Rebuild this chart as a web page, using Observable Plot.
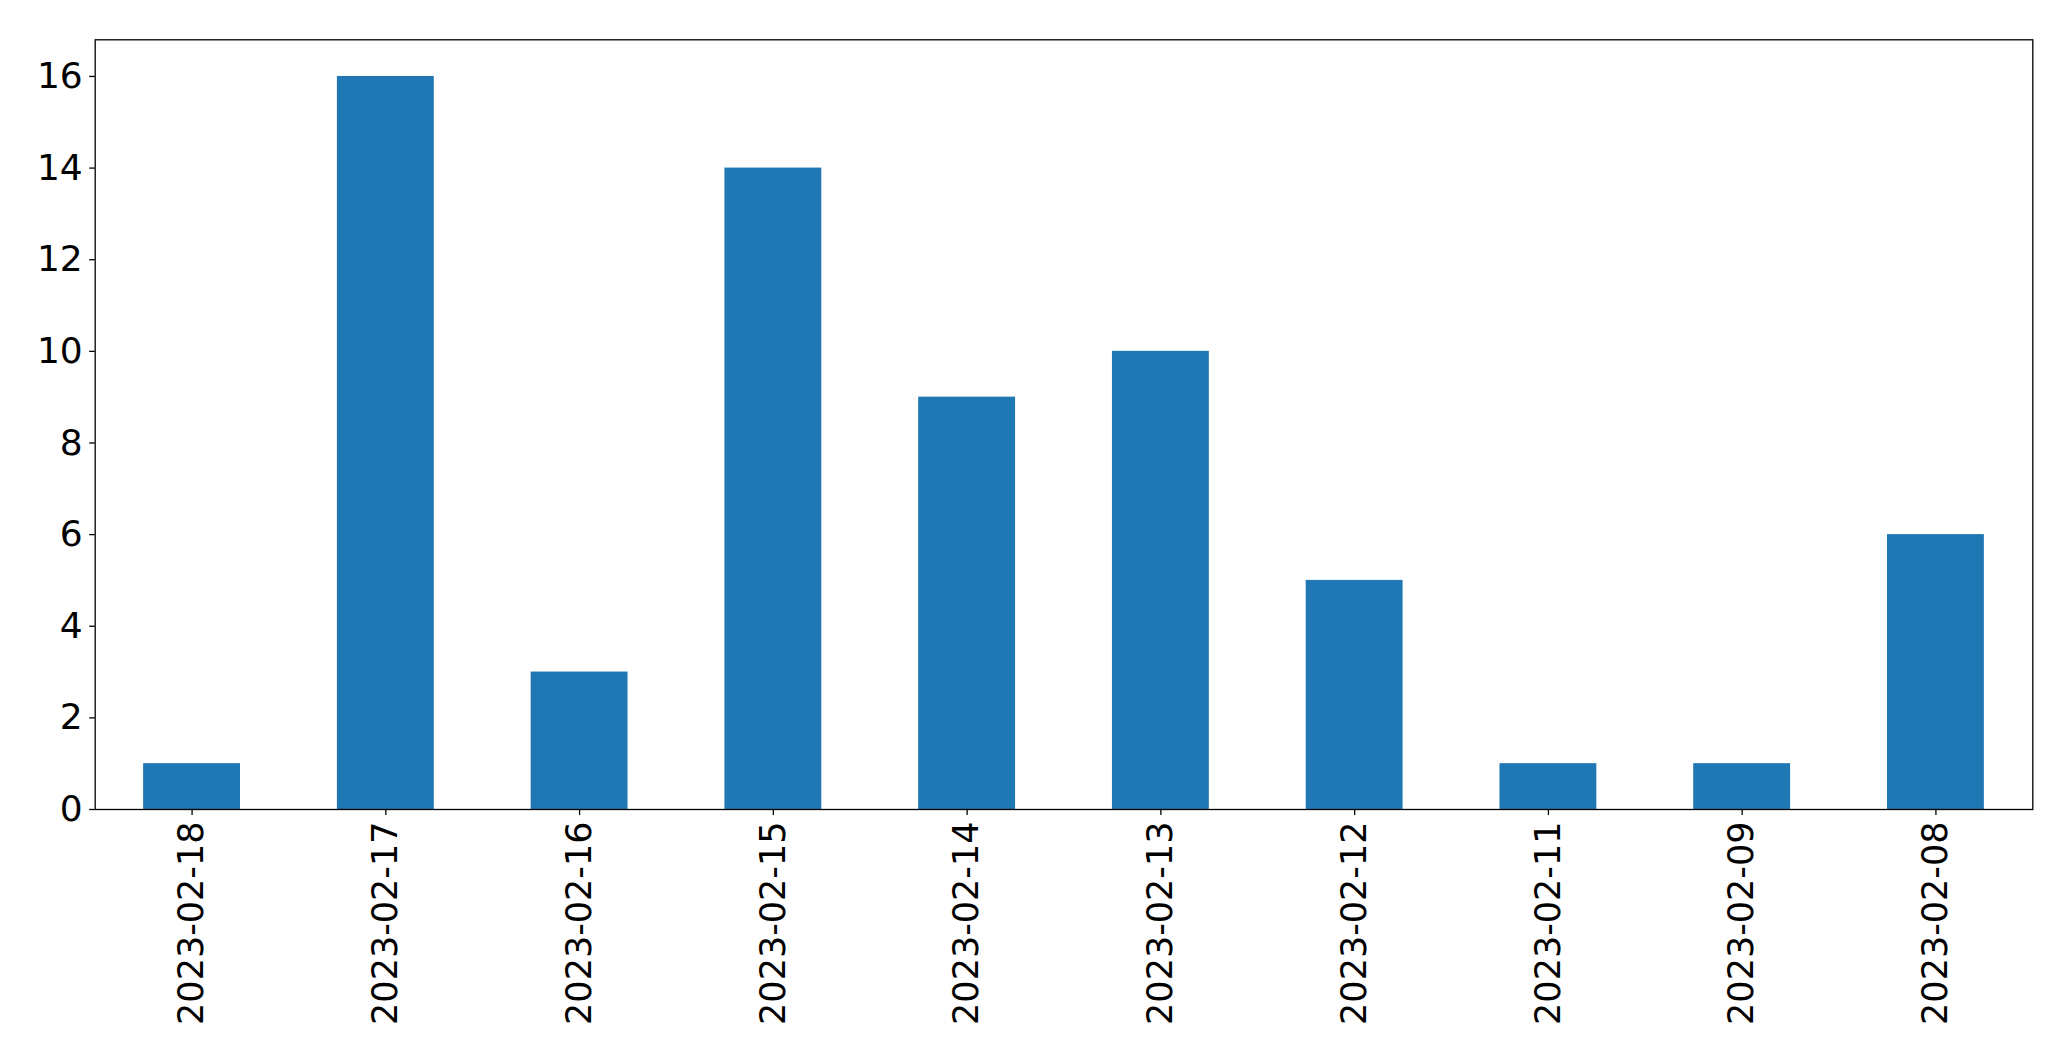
<!DOCTYPE html>
<html>
<head>
<meta charset="utf-8">
<script src="https://cdn.jsdelivr.net/npm/d3@7"></script>
<script src="https://cdn.jsdelivr.net/npm/@observablehq/plot@0.6"></script>
<style>
  html, body { margin: 0; padding: 0; background: #fff; }
  svg { display: block; }
</style>
</head>
<body>
<div id="chart"></div>
<script>
const dates = ["2023-02-18","2023-02-17","2023-02-16","2023-02-15","2023-02-14","2023-02-13","2023-02-12","2023-02-11","2023-02-09","2023-02-08"];
const counts = [1, 16, 3, 14, 9, 10, 5, 1, 1, 6];
const yTicks = [0, 2, 4, 6, 8, 10, 12, 14, 16];

const data = dates.map((d, i) => ({date: d, count: counts[i]}));

const chart = Plot.plot({
  width: 2071,
  height: 1061,
  marginLeft: 94.7,
  marginRight: 38.7,
  marginTop: 39.3,
  marginBottom: 252,
  style: {fontFamily: "DejaVu Sans", fontSize: "36px", color: "#000", background: "#fff"},
  x: {domain: dates, paddingInner: 0.5, paddingOuter: 0.25, align: 0.5, round: false, label: null},
  y: {domain: [0, 16.8], label: null},
  marks: [
    Plot.barY(data, {x: "date", y: "count", fill: "#1f77b4"}),
    Plot.frame({stroke: "#000", strokeWidth: 1.3}),
    Plot.axisY({ticks: yTicks, tickSize: 5.5, tickPadding: 7, fontSize: 36, label: null, strokeWidth: 1.3}),
    Plot.axisX({tickRotate: -90, tickSize: 6, tickPadding: 6, fontSize: 35, label: null, strokeWidth: 1.3})
  ]
});
document.getElementById("chart").appendChild(chart);
</script>
</body>
</html>
